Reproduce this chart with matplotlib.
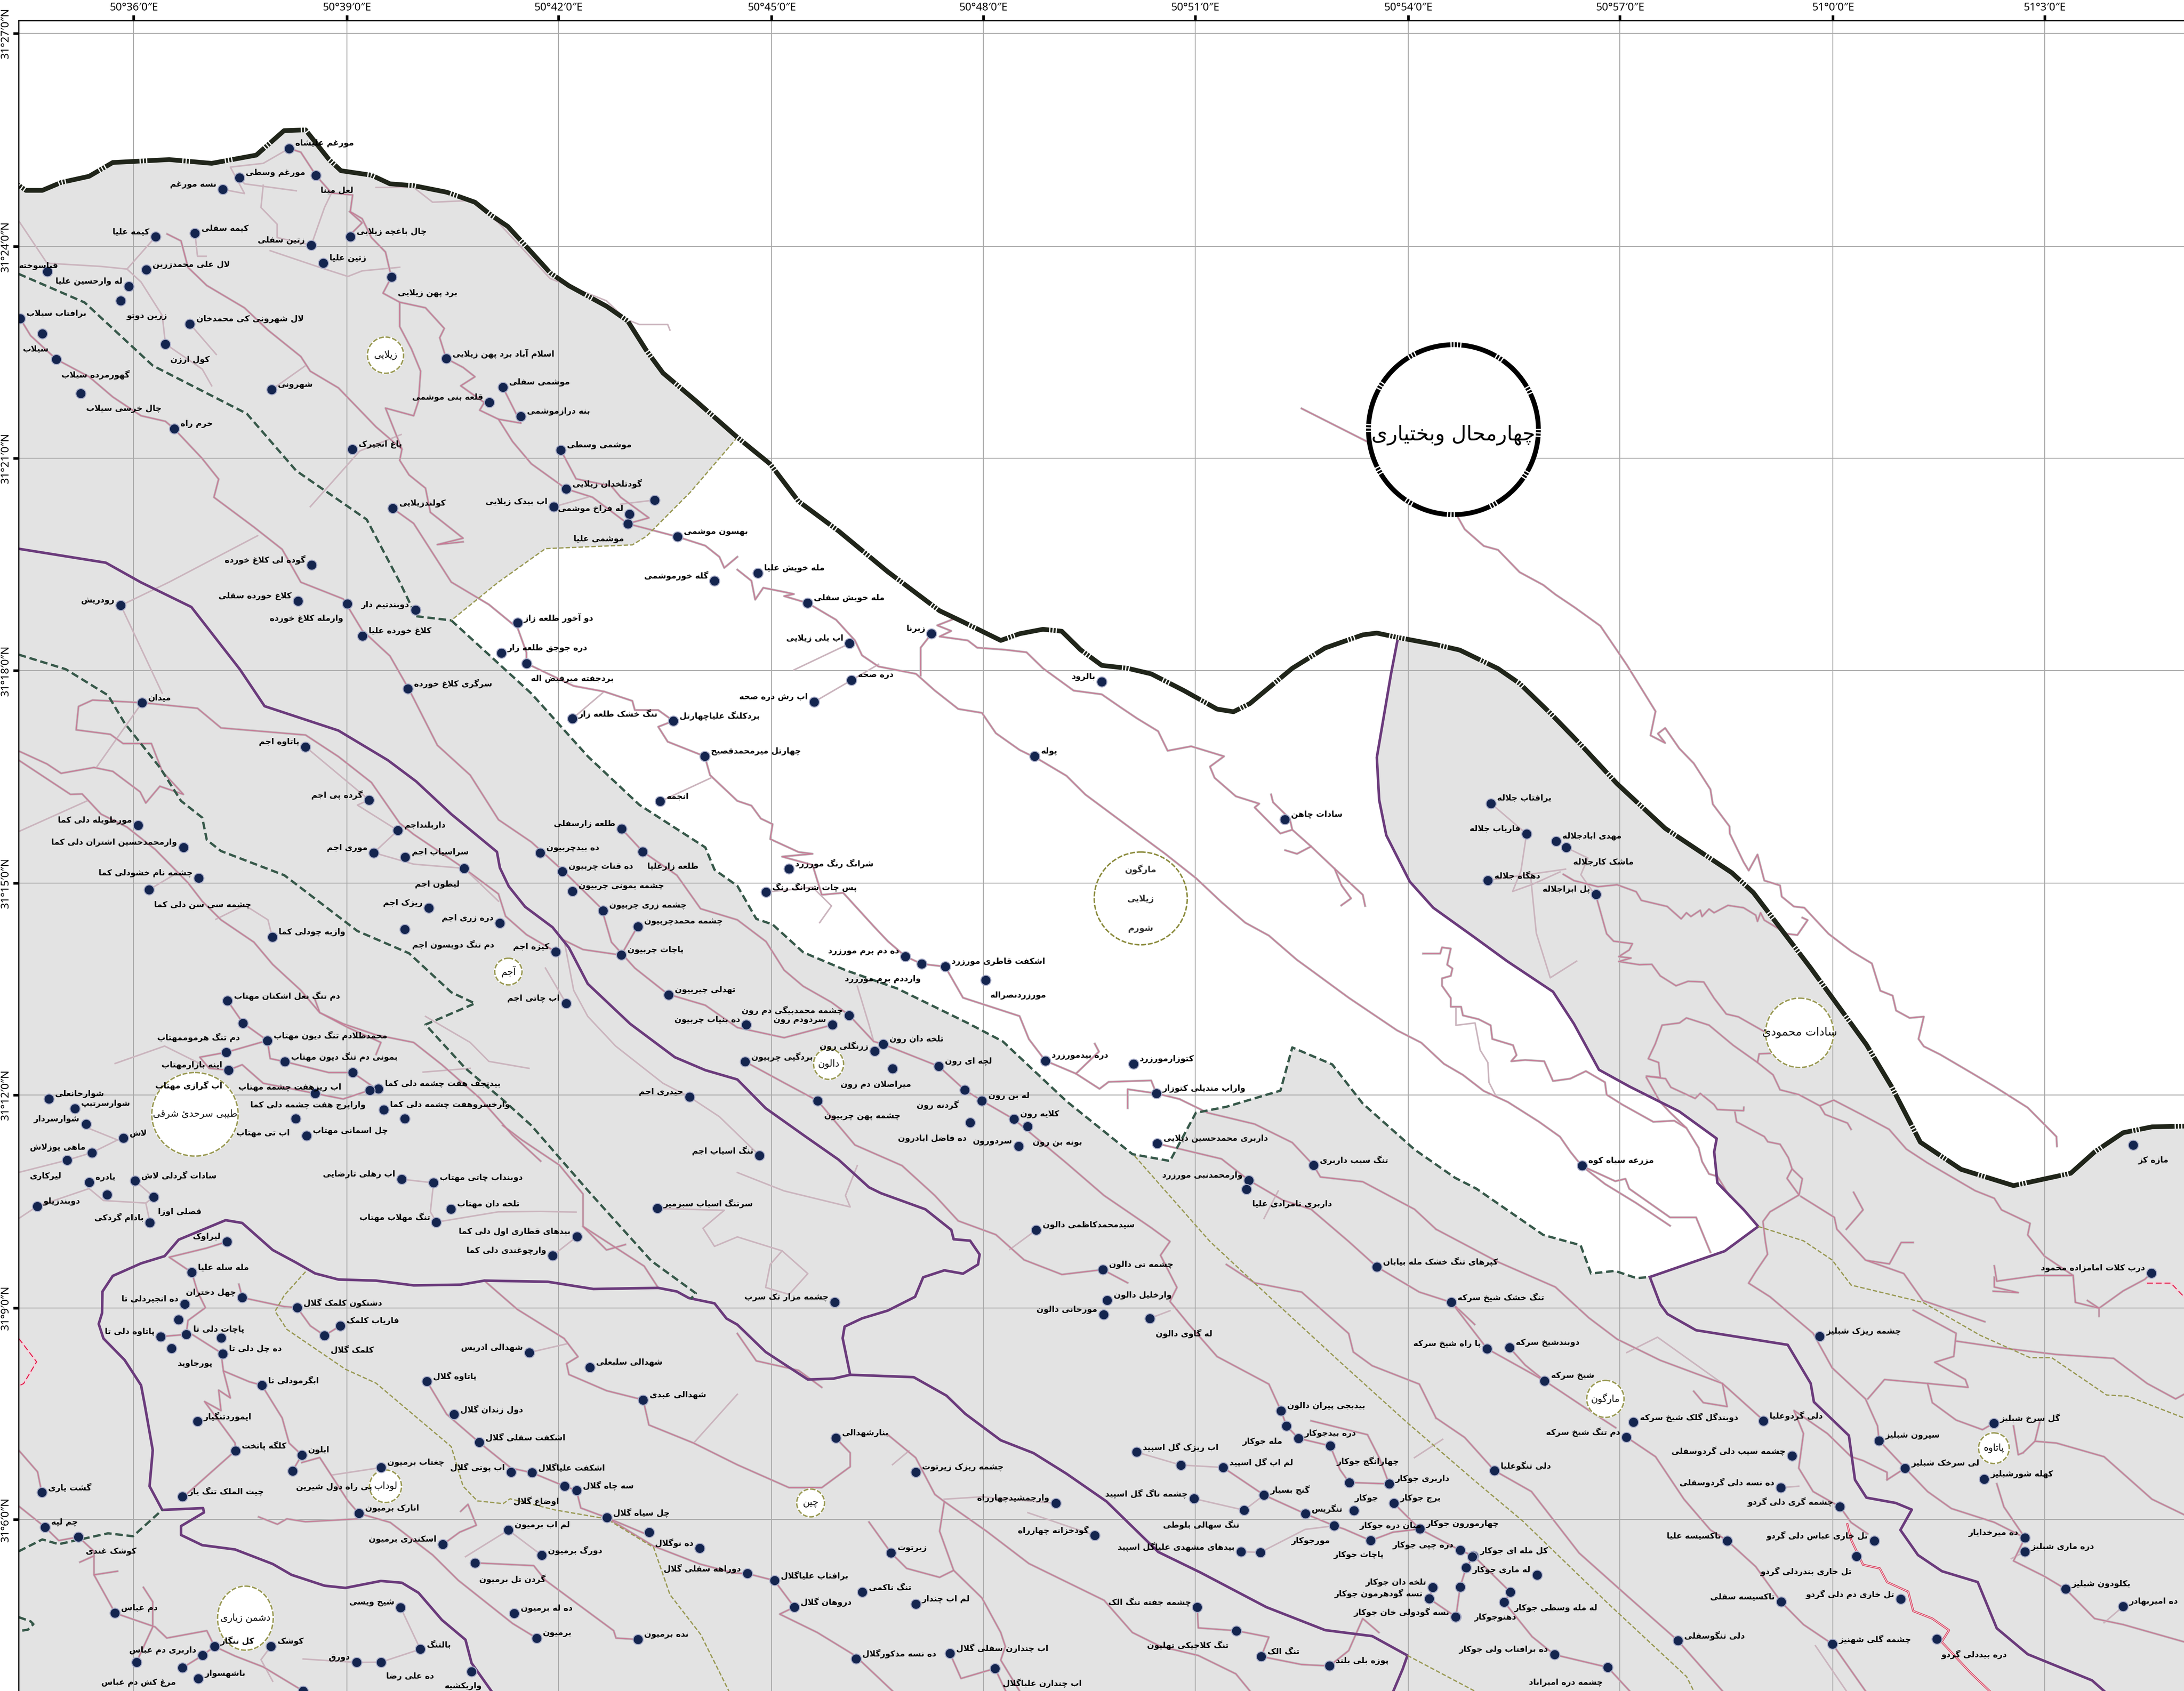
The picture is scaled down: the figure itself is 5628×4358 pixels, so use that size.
import matplotlib
matplotlib.use('Agg')
import matplotlib.pyplot as plt
from matplotlib.patches import Polygon, Ellipse

# map units: x, y as read on the sheet, ticks give them their lon / lat
lon_ticks = [96, 249, 401, 554, 706, 858, 1011, 1163, 1316, 1468]
lon_labels = ["50°36′0″E", "50°39′0″E", "50°42′0″E", "50°45′0″E", "50°48′0″E", "50°51′0″E", "50°54′0″E", "50°57′0″E", "51°0′0″E", "51°3′0″E"]
lat_ticks = [24, 177, 329, 481.5, 634, 786, 939, 1091]
lat_labels = ["31°27′0″N", "31°24′0″N", "31°21′0″N", "31°18′0″N", "31°15′0″N", "31°12′0″N", "31°9′0″N", "31°6′0″N"]

# province border, west part and east part
border_w = [(13.4,133),(18.6,136.7),(30.4,136.7),(44,131),(64,126.6),(81,116.7),(121.5,114.6),(152,117.3),(184,111.4),(204,93.8),(219.4,93.3),(236.3,114.6),(244.8,122.6),(266.7,125.8),(280,132),(297,133.3),(320.7,138),(341,145.2),(352.8,154.6),(364.6,162.6),(378,177.2),(395,195.9),(408.5,205.2),(435.5,219.9),(450.7,230.5),(464.2,251.8),(476,267.8),(499.6,287.8),(529.4,314)]
border_m = [(529.4,314),(553,333.2),(573.3,359.9),(602,381.2),(637.4,410.5),(674.6,438.5),(691.4,446.5),(718.5,459.8),(732,455),(748.8,451.8),(762.3,453.2),(775.8,466.5),(791,477.7),(809.6,479.8),(826.5,483.8),(850,495.8),(873.8,509.1),(885.6,511),(897.4,505.1),(927.8,479.8),(951.4,465.2),(978.4,455.8),(988.5,454.5),(1003.7,457.7)]
border_e = [(1003.7,457.7),(1031,462.8),(1048,466.7),(1075.5,480),(1091,490.7),(1113,512),(1133.8,533.4),(1161,562.7),(1195.5,594.7),(1243.4,626.6),(1258.8,640.8),(1300,695),(1340,750),(1358,780),(1378.7,820),(1407.9,839.5),(1445.6,851.2),(1486.7,842.3),(1503.8,827),(1524.3,813.2),(1545,809),(1568,808.5)]

olive_top = [(529.4,314),(496,353),(464.2,385),(454,391.2),(391.6,393.9),(357.9,417.9),(324,445.4)]
green_hole = [(324,445.4),(381.5,497.9),(422,543),(459,577.8),(506.4,608.4),(513,624.4),(529.4,636),(543,659.7),(554.7,663.7),(576.7,683.7),(607,696.5),(644.2,709.7),(694.8,734.5),(720,747.7),(765.7,790.6),(813,828.6),(840,833.5),(858.6,798.9),(880.5,794.6),(919.3,783),(927.8,752),(956.5,764.2),(978.4,792.3),(1015.6,825.3),(1044.7,845.6),(1060,853.4),(1108,886.6),(1134.8,894),(1142.3,914.3),(1159.5,912.4),(1174.9,917.6),(1184.5,916.8)]
purple_hole = [(1184.5,916.8),(1238.3,898.2),(1262.3,880.5),(1252,868.6),(1233,849.2),(1230.7,827),(1232.5,817.4),(1205.7,798),(1169.8,780),(1148,768),(1130,735),(1115,712),(1082,690),(1058.7,673),(1029,651.7),(1012.2,633),(995.3,599.7),(990.2,574.4),(988.5,543.8),(998.7,483.8),(1003.7,457.7)]

green_west = [(13.5,196.7),(60.8,217.2),(109.7,262.5),(177.2,297),(212.7,338),(263.3,373),(287,417.9),(298.8,442.4),(324,445.4)]
green_mid = [(13.5,470),(47.3,480.5),(77.6,499.2),(89.5,519.2),(114.8,551),(130,575),(145.2,587),(148.5,603),(158.7,611),(204.2,628.4),(256.6,668.4),(293.7,684.4),(324,712.4),(341,720.4),(305.5,735.6),(334.2,767),(361.2,789.7),(381.5,808),(422,854.6),(467.6,905.2),(499.6,928.5),(496,932.4)]
green_sw = [(13.5,1113.7),(30.4,1105.2),(42.2,1108.6),(77.6,1100.8),(95.5,1102.9),(116.5,1084)]
green_arc = [(13.5,1161),(22,1164),(24,1166),(20,1170),(13.5,1171)]

purple_a = [(13.5,394),(76,404),(101,418),(137.4,435.8),(172.2,480.5),(190,507),(243,524.5),(278.5,545.8),(298.8,561),(324,584.5),(356.8,611.6),(358.9,623),(365.3,636.4),(377,651),(396.7,665.7),(408.5,680.4),(422,706.3),(452.4,735),(484.5,759),(506.4,768.3),(529.4,775),(549.7,795.6),(578.4,816),(602,832.5),(623.9,852.4),(632.4,856.6),(664.4,868.2),(683,883),(684.7,889.7),(696.5,890.7),(703.3,900.6),(702.2,907.8),(691.4,914.4),(678,912),(662.8,917),(657,931),(637.4,940.9),(618.9,946.5),(606.4,952.4),(605,960.7),(610.4,987)]
purple_b = [(352.8,1214),(338.6,1194),(334.2,1177.2),(317.3,1163),(300.5,1143.5),(288.6,1136.3),(273.5,1135),(248,1140),(233,1138.4),(209.3,1130.6),(195.8,1122.8),(168.8,1112.4),(145.2,1109.3),(130,1102),(130,1095.6),(146.5,1085.8),(145.8,1082.7),(116.5,1084),(107.4,1067),(109.7,1041.2),(104,1008.8),(101.3,994.5),(89.5,976.4),(74.3,960.9),(70.9,950.5),(73.3,942.7),(73.6,927.2),(81,916),(101.3,907),(118.2,901.8),(128.3,890),(162,876),(173.9,878),(195.8,897.4),(212.7,906.5),(226.2,914.2),(243,918.6),(270,919.4),(297,922.8),(330.8,922.3),(347.7,919.4),(393.3,920.2),(426,925.4),(472.6,924.6),(486,927.2),(494.6,931.9),(513,935.7),(521.6,946.6),(529.4,951),(549.7,970.6),(580,990.4),(598.6,989.7),(610.4,987),(656,988.7),(679.6,1002),(693,1015),(718.5,1034),(742,1043.2),(765.7,1058),(794.4,1077.9),(831.6,1114.2),(862,1129),(909.2,1153.8),(951.4,1170.3),(985.2,1174.6),(1010.5,1188.5),(1007,1198.4),(1000.4,1214)]
purple_c = [(1184.5,916.8),(1192,936.4),(1197.2,943.4),(1217.7,955),(1283.5,965.5),(1300,993.2),(1302.3,1006.5),(1327.4,1030.6),(1331.8,1062.4),(1340,1075.2),(1361,1079),(1372.6,1083.8),(1364.4,1098.4),(1377,1116.4),(1394.2,1128),(1419.9,1135.8),(1433.6,1169),(1455.8,1187.6),(1502,1206.4),(1510.6,1214)]

olive_a = [(219.4,913),(204.2,929.8),(197.5,941.4),(206,954.4),(248,983),(270,993),(324,1038.6),(332.5,1067),(342.7,1077.5),(361.2,1079.5),(366.3,1076),(398.4,1084),(435.5,1090.4),(469.3,1111),(481,1144.8),(503,1173.3),(523.3,1214)]
olive_b = [(814.7,830),(868.7,891.3),(904.1,924.3),(961.5,977.2),(1008.8,1020),(1058.7,1063),(1092.7,1091.5),(1154.3,1151),(1210.9,1203.7),(1216,1214)]
olive_c = [(1262.3,880.5),(1294.8,890.8),(1315.4,904.6),(1329,922.6),(1380.5,935),(1421.6,958.6),(1457.5,974.7),(1473,974.7),(1512.4,1001.5),(1527.8,1002.4),(1568,1018)]
olive_d = [(1010.5,1188.5),(1058.7,1214)]

red_west = [(13.5,960.9),(26.3,977.7),(17,993.3),(13.5,995)]
red_east = [(1541.5,921.2),(1558.6,921.2),(1568,931)]
red_river = [(1326.3,1094.3),(1329,1105.4),(1337.6,1123.4),(1349.6,1126),(1354.8,1135.8),(1370,1142.7),(1373.6,1156.6),(1387.3,1162),(1399.3,1170.4),(1394,1178.7),(1414.7,1200.9),(1428.4,1214)]

rivers_white = [
    [(529.4,409),(539.5,417),(542.2,430.5),(548,422),(563,425),(570,426.5),(563,428),(580,433),(593.5,441),(600.3,445),(613.8,459.8),(618.9,470.5),(630.7,478.5),(657.7,483.8),(671.2,495.8),(688,509),(705,511.8),(715,526.4),(732,538.4),(745.5,545),(765.7,557),(779.2,570.4),(809.6,593),(836.6,613),(858.6,630.4),(877,647.7),(894,662.4),(911,671.7),(931,689),(941.3,696.5),(968.3,716.3),(1003,739.7),(1020.4,748.6),(1036.6,763.7),(1050.3,771.7),(1065.2,783.2),(1082.6,791.2),(1105,805.4),(1120,816.1),(1127.4,826.8),(1135.6,837),(1159.7,848),(1167,846.3),(1169.7,853.4),(1199,874),(1217.7,874),(1224.6,890.8),(1228,899)],
    [(1135.6,837),(1152.3,850),(1174.7,863.7),(1199,880)],
    [(684.7,444.4),(672.9,449),(683,453),(674.6,457),(694.8,459.8),(701.6,465),(721.8,466.5),(737,468.3),(748.8,479.8),(770.8,495.8),(791,498.5),(804.5,507.8),(816.4,515.8),(831.5,525),(838.3,539),(855.2,535.8),(878.8,543),(868.7,550.4),(872,558.4),(887.3,571.7),(904.1,577),(900.8,579.7),(919.3,598.4),(927.8,595.7),(941.3,607.7),(958.2,623.7),(978.4,642.4),(980.1,650.4)],
    [(912.6,570.4),(914,576),(926,587.7),(927.8,595.7)],
    [(941.3,607.7),(931.2,613),(922.7,610.4)],
    [(958.2,623.7),(963.2,635.7),(970,645),(963,650)],
    [(668.8,455),(661,465),(661,485)],
    [(934.5,293.3),(981.8,317.2)],
    [(1046.4,370.8),(1051.6,380),(1065.3,392),(1075.5,394.8),(1091,410.8),(1108,420),(1116.7,426.8),(1130.4,436),(1149,449.4),(1168,477.4),(1188.6,510.7),(1185,528),(1195.5,533.4),(1190.3,526.7),(1195.5,522.7),(1205.7,537.4),(1216,548),(1228,566.7),(1229.7,577.3),(1241.7,593.3),(1241.9,598.4),(1251.8,618.9),(1255.5,625),(1261.8,613.5),(1266.7,632.2),(1278,635.7),(1279.2,643.7),(1287.9,650.8),(1295.4,651.7),(1312.8,670.4),(1329,682.8),(1343.9,691.7),(1350,711.3),(1358.8,714.8),(1361.3,725.5),(1371,730.8),(1381.2,729.9),(1377.4,745.9),(1381.2,751.2),(1393,757.1),(1415,770),(1431.8,780),(1455.8,795.2),(1476.4,816),(1476.8,823)],
    [(1021.7,684.6),(1034,684.6),(1035.3,680.2),(1041.6,681),(1039,692.6),(1042.8,695.3),(1041.6,700.6),(1035.3,702.4),(1035.3,707.7),(1041.6,716.6),(1041.6,722.8),(1049,722.8),(1050.3,729),(1061.5,731.7),(1070.2,736.1),(1071.4,745.9),(1086.3,750.4),(1088.8,757.5),(1085,761.9),(1095,761),(1108.7,761.9),(1115,776.1),(1127.4,774.4),(1138.6,769),(1152.3,777),(1153.5,785.9),(1164.7,793),(1187,805.4),(1202,804.6),(1210.8,809.9),(1199.6,799.2),(1192,791.2),(1182,773.5)],
    [(1210.8,809.9),(1219.5,824),(1222,833.9),(1227,842.8),(1233,844.5),(1241.8,858.8)],
]

rivers_east = [
    [(1122.4,627.7),(1130,632.2),(1147.3,636.6),(1161,635.2),(1174.7,640.2),(1178.4,646.4),(1197,650.8),(1207,659.7),(1210.8,655.3),(1214,658),(1220.7,653.5),(1222,658),(1227,652.6),(1230.6,655.3),(1240.6,650),(1251.8,651.7),(1260.5,657),(1261.8,661.5),(1264,655.3),(1266.7,660.6),(1283,670.4),(1290.4,671.3),(1297.8,660.6),(1294,658.8)],
    [(1146,643.7),(1153.5,670.4),(1158.5,675.7),(1172,677.5),(1169.7,682),(1162.2,686.8),(1171,687.8),(1162.2,690.3),(1177,692.6),(1185.9,692.3),(1192,700.6),(1203.3,707.7),(1212,704.5),(1223.2,705),(1230.6,716.6),(1239.4,728),(1248,730),(1266.7,740.6)],
    [(1271.7,756.2),(1263,756.6),(1261.8,762.8),(1244.3,750.4),(1227,736),(1210.8,730.8),(1205.8,734.4),(1193.3,736),(1188.4,749.5),(1183.4,760.1),(1190.8,762.8),(1192,773.5),(1182,772.6),(1195.8,774.4),(1199.6,780.6),(1217,788.6),(1220.7,785),(1230.6,793),(1233,796.6),(1251.8,797.4),(1252,795)],
    [(1261.8,762.8),(1273,771.7),(1278,782.4),(1291.6,785.9),(1306.5,793.9),(1316.5,789.8),(1336.4,800.1),(1356.3,810.8),(1368.7,825),(1383.7,834.8),(1418,854.8),(1431.8,860.3),(1437,868.6),(1457.5,878.3),(1455.8,886.6),(1467.8,901.8),(1488.4,915.7),(1490,935),(1507,939.2),(1524.3,926.8),(1539.8,918.5),(1544.6,914)],
    [(1306.5,793.9),(1310.3,800.1),(1326.4,806.3),(1329,810.8)],
    [(1245.6,798.4),(1246.8,805.4),(1266.7,816),(1269.2,819.7),(1278,821.5),(1284,831.2),(1286.6,839.2),(1294,846.3),(1291.6,857.9),(1270.8,870),(1265.7,877),(1267.4,890.8),(1269,900.5),(1260.5,913),(1255.4,921.2),(1270.8,931),(1301.7,957.2),(1315.4,982),(1339.3,1004.3),(1348,1023.7),(1349,1034),(1367.8,1054),(1383.9,1070.8),(1401,1083),(1431.8,1092.9),(1453.8,1104),(1445.6,1120.6),(1467.8,1131.7),(1483,1140.8),(1503.8,1162),(1524.3,1166.3),(1568,1178.7)],
    [(1286.6,839.2),(1283,846),(1291.6,857.9)],
    [(1293,859),(1317,874),(1318.8,882.5),(1339.3,904.6),(1366.8,914.3),(1380.5,933.7),(1425,948.9)],
    [(1330.8,856),(1337.6,868.6),(1325.6,882.5)],
    [(1373.6,892),(1365,892),(1356.5,907.4),(1341,905)],
    [(1373.6,940.6),(1404.4,957.2),(1402.7,973.8),(1389,978),(1411,990.4),(1413,996),(1383.9,993.2),(1353,990.4),(1341,1004.3)],
    [(1383.9,993.2),(1387.3,1007),(1404.4,1019.5),(1423.3,1026.4),(1431.5,1021.7)],
    [(1404.4,962.8),(1442,968.3),(1476.4,972.4),(1517.5,975.2),(1541.5,993.2),(1562,1004.3),(1568,1001)],
    [(1431.8,908.8),(1433.6,919.8),(1462.7,915.7),(1488.4,915.7)],
    [(1431.8,917),(1431.8,924),(1449,928),(1431,927)],
    [(1498.7,933.7),(1507,939.2),(1507,945)],
    [(1452.4,1043),(1461,1034.7),(1464.4,1021)],
    [(1445.6,1023.7),(1449,1044.4),(1452.4,1043)],
    [(1461,1034.7),(1476.4,1036),(1510.6,1045.8),(1545,1076.3),(1568,1087.4)],
    [(1433.6,1065.2),(1438.7,1081.8),(1453.8,1104)],
    [(1354.8,1062.4),(1354.8,1057),(1337.6,1048.6),(1329,1045.8),(1312,1029.2),(1288,1012.6),(1294.8,1029.2),(1291.4,1054),(1301.7,1070.8),(1321,1081.8),(1329,1093),(1341,1101.2)],
    [(1367.8,1054),(1354.8,1062.4)],
    [(1167.7,1031.7),(1188.6,1045.8),(1209,1076.3),(1228,1098.4),(1240,1106),(1260.5,1124.7),(1278.7,1150),(1294.8,1166.3),(1315.7,1180.4),(1339.3,1214)],
    [(1031,1018),(1051.6,1032),(1073,1055.8),(1099.5,1070.8),(1133.8,1115),(1168,1145.5),(1204.7,1177.9),(1236.6,1214)],
    [(1031,882.5),(1075.5,906),(1116.7,924),(1140.6,946),(1161,961.4),(1192,976.6),(1236.6,993.2),(1267.4,1020.9)],
    [(1042.3,935.3),(1067.7,968.3),(1109,991.3),(1140,1012),(1160,1025)],
    [(1083.8,967.5),(1095,980),(1109,991.3)],
    [(867,798.9),(900.8,807),(927.8,820.3),(943,836.5),(948,845),(978.4,848.4),(1015.6,868.2),(1031,882.5)],
    [(830.9,821),(877,832),(896.7,847.4),(921,861.6),(941.3,868.2),(968.3,891.3),(988.5,909.5),(1019,927.6),(1042,935),(1058.7,950.8)],
    [(880.5,907.8),(900.8,921),(934.5,927.6),(968.3,957.4),(971.6,970.6),(985.2,980.5),(1019,993.7),(1031,1018)],
    [(846.7,789),(867,798.9)],
    [(809.6,795.6),(809.6,782),(830.2,785),(826.5,775.7),(796,776.7),(789.4,781.7),(772.5,770.8),(750.5,761.5)],
    [(786,749.3),(789,755),(772.5,770.8)],
    [(830.2,785),(846.7,789)],
    [(1216,998.8),(1222.9,1007),(1240,1009.8),(1236.6,993.2)],
]

rivers_north = [
    [(207.6,106.6),(216,109.3),(226.9,126),(238,138.6),(253.2,140),(251.5,152),(260,157),(266.7,170.6),(276.8,181),(281,199),(275,210.5),(287,217),(287,234.5),(295.4,250.5),(302,266.5),(300.5,287.8),(297,298.5),(276.8,293),(280,301),(288.6,322.5),(287,330.5),(293.7,341),(305.5,350.5),(309,367.8),(332.5,386.4),(314,391),(332.5,389)],
    [(120,168),(130,173),(135,192),(148.5,205),(175.5,221),(192.4,237),(216,256),(222.8,266.5),(243,278.5),(270,306.5),(288.6,322.5)],
    [(14.5,228.7),(22,241),(40.5,258),(64,270.5),(81,285),(101.3,298.5),(118.8,302.5),(125,307.8),(145,329),(157,344),(153.6,357),(182.3,378.4),(202.6,394.4),(216,418),(246.4,430),(260,452.5),(280,471),(293.7,495),(314,535),(337.6,556.5),(357.9,588.5),(381.5,604.5),(405,625.8),(432,652.4),(439,676.4),(455.8,695),(479.4,713.7),(506.4,721.7),(529.4,737.7),(563,745),(597.6,735.8)],
    [(287,217),(305.5,221),(319,235.8),(315.7,242.5),(320.4,257.4),(332.5,263.8),(341,270.5),(330.8,277),(347.7,289),(344.4,294.5),(357.9,301),(374,303.8),(361,278)],
    [(357.9,301),(368,317),(381.5,333),(406.5,351),(425.4,357),(450.7,376),(486.5,385.4),(506.4,391.8),(516.5,399.8),(520,407.7),(529.4,399.8)],
    [(402.7,323.3),(413.6,343.8),(438.9,349),(445.6,357),(465.9,371.8),(450.7,376)],
    [(282,365),(297,375.8),(324,417.9),(351,434),(371.7,451),(378,468.5),(378,476.3),(411.9,492.5),(433.8,496.5),(454,503.2),(455.8,509.8),(472.6,509.8),(483.4,517.6),(472.6,521.8),(479.4,532.5),(499.6,540.5),(506,543),(509.8,556.5),(529.4,575),(539.5,578.4),(546.3,587.7),(554.7,591.7),(553,602.4),(573.3,611.7),(583.4,613),(561.5,615),(583.4,621),(590,642.4),(605.4,641),(627.3,665),(637.4,675.7),(650,686.6),(661.7,692),(678.6,694),(691.4,716.3),(732,729.5),(738.7,746),(750.5,761.5)],
    [(250,170),(260,160),(251,152)],
    [(446.3,595),(461.5,611.4),(486,628.4),(503,652.4),(529.4,660.4),(550,676),(563,696.5),(576.6,708),(597,719.6),(609.7,728.9),(627.3,747.7),(634,749.7)],
]

rivers_centre = [
    [(535,762.2),(563,777.4),(587.1,790.3),(613.8,822),(647.6,836.8),(671.2,858.3),(688,876.5),(715,886.4),(735.3,904.5),(762.4,915),(791.7,911.5),(809.6,921)],
    [(634,749.7),(673.9,765.5),(692.5,782.4),(705,790.3),(727.9,803.5),(765.7,835),(792.7,858.3),(826.5,881.4),(840,891.3),(833.2,901.2),(845,924.3),(840,934.3),(853.5,950.8),(873.8,973.9),(911,993.7),(919.7,1012.8),(923.7,1023.7),(932.2,1032.6),(955,1038),(962,1055),(968.6,1064.3),(997.3,1065.3)],
    [(941.3,1020),(981.8,1030),(990.2,1046.5),(997.3,1065.3)],
    [(347.7,919.4),(371.4,940),(405,960.9),(415,974),(406.8,979),(408.5,986.8),(435.5,998.4),(461.8,1005),(465.9,1023),(498,1036),(529.4,1051.6),(566.5,1068),(590,1068),(610.4,1053),(610.4,1043),(600,1032.3)],
    [(637.4,1030),(657.4,1046.5),(671.2,1072.9),(678,1078),(674.6,1099.3),(684.7,1127.4),(705,1147.2),(718.5,1172),(721.8,1182),(718.5,1191.8),(732,1214)],
    [(678,1078),(708.3,1099.3),(738.7,1122.5),(792.7,1148.9),(813,1172),(833.2,1182),(860.3,1188.5),(887.3,1201.7),(897.4,1214)],
    [(536.5,1129.7),(556,1134.7),(570.3,1153.8),(559.8,1158.8),(586.8,1172),(613.8,1188.5),(640.8,1214)],
    [(623.9,1092.7),(639.8,1114.9),(651,1126),(674.6,1132.4),(684.7,1127.4)],
    [(859.6,1153.8),(860.3,1168.7),(887.6,1170.7),(911,1175.3),(905.5,1189.2),(934.5,1195),(954.5,1196),(968.3,1185),(978.4,1162),(990,1172)],
    [(878.1,1053.5),(907.5,1073.3),(937.2,1086.8),(958,1095.4),(965,1097.7),(984.1,1106),(1000,1100),(1019.3,1097.7)],
    [(1000.7,1079.2),(1019.3,1097.7),(1048.3,1113),(1058,1117),(1052.6,1125.6),(1048.3,1139.3),(1045.3,1160.8),(1026,1147.6),(1028.7,1139.6)],
    [(1058,1117),(1084.4,1143),(1080,1150.2),(1100,1175),(1116,1187.9),(1154.3,1197),(1170,1214)],
    [(682,1186.9),(690,1205),(714.4,1197.8),(722,1214)],
    [(529.4,957.4),(543,977),(573.3,983.8),(590,996)],
]

rivers_west = [
    [(102,504.5),(66.5,502.6),(56.4,507.2),(54.7,524),(79.3,527.2),(88.4,533.8),(108.7,533.8),(116.5,553.8),(131.7,570.3),(114.8,564.5),(104.7,576.5),(100.6,568.5),(81,553.8),(67.5,551),(43.9,555.2),(33.8,548.5),(13.5,539.2)],
    [(13.5,545.8),(50.6,570.3),(59,570),(72.6,584.5),(91.2,593.8),(111.4,609.8),(135,633.8),(145.2,647),(158.7,660.4),(182.3,676.4),(195.8,692.4),(216,711),(229.6,727),(246.4,735),(270,743),(297,748.4),(317.3,764.4),(344.4,788.3),(368,815),(388.2,833.6)],
    [(102,504.5),(141.8,508.5),(158.7,522.6),(219.4,527.7),(243,543.2),(266.7,561.8),(287,591),(297,599),(333.2,623.4),(357.9,641.8),(363,657.8),(378,671),(399,683.3)],
    [(405,675),(418.6,681.7),(446,685.7),(459,663)],
    [(163.4,718.5),(174.5,734.5),(192,747),(162.4,755.5),(143.5,759),(150.2,767),(164,768.3),(173.9,764.4),(189,777.7),(226.2,785),(246.4,789),(265.4,782.7),(271.8,781.7)],
    [(226.2,717.7),(229.6,727),(249.8,737.7),(273.5,748.4),(270,757)],
    [(192,747),(194,760),(204.6,762.2),(236,770),(253.2,770),(270,781.7)],
    [(361,808),(374.7,818.4),(401.7,836.5),(418.6,857.2),(418.6,880.5),(435.5,897.4),(449,893.5)],
    [(418.6,880.5),(462.5,909),(472.6,924.6)],
    [(13.5,1041.2),(27,1056.7),(30,1071.5)],
    [(13.5,1081.3),(32.4,1096.4),(42.2,1106),(56.4,1103.4),(67.5,1113.7),(67.5,1130.6),(81,1155),(82.4,1158),(111.4,1168),(119.8,1176),(148.5,1170.7),(154,1182),(168.8,1188.9),(189,1196.7),(217.7,1214)],
    [(57.4,1121.5),(67.5,1117)],
    [(67.5,1130.6),(84.4,1128)],
    [(103,1139.6),(109.7,1150),(109.7,1168),(98,1193.3)],
    [(154,1182),(145.5,1188.4),(131,1197.4)],
    [(137.7,913.5),(121.5,902.6),(148.5,896),(163,891.4)],
    [(137.7,913.5),(141.8,927.2),(147.5,938.8),(135,948),(133.7,958),(115.5,959.6)],
    [(138.4,958.3),(158.7,971.2),(160.4,984.2),(179,992),(188,994.5),(202.6,1018),(207.6,1036),(216.7,1044.6),(210,1056)],
    [(216.7,1050),(229.6,1046.4),(249.8,1077.5),(257.6,1086.5),(280.2,1093),(310.6,1116.3),(329,1134.5),(368,1165.5),(385.2,1176)],
    [(171.5,922),(174,931.6),(204,938),(213.4,938.8),(222.8,951.8),(233,958.8),(244.4,951.8)],
    [(160.4,984.2),(165.4,1003.6),(157,998),(158.7,1012.7),(146.9,1006.2),(168.8,1036),(169,1041.5)],
    [(185.7,1089),(199.2,1094.3),(206,1090.4),(219.4,1092.5),(257.6,1090.4)],
    [(306.5,991.7),(320.7,1015.3),(344,1035.5),(367,1054),(382,1057.3),(405.4,1067),(413.9,1070),(417,1082.6),(435.8,1089.6),(462.5,1100.8),(466,1100)],
    [(435.8,1089.6),(469.3,1110),(502.4,1122.8),(526.6,1129.3),(536.5,1129.7)],
    [(330.8,1085),(336,1080),(342,1095),(330,1100),(318,1108.8)],
    [(341,1122),(383.2,1124),(391.6,1134.5),(440.6,1170.7),(442.3,1176),(458,1177)],
    [(132,1074.4),(169,1041.5)],
]

pale_streams = [
    [(160,136),(175.6,139),(165.4,120),(189,117.3),(207.6,106.6)],
    [(172,127.7),(175.6,132),(212.7,137)],
    [(189,133),(187.4,149),(199,161),(199,170.6),(223.5,176),(233,149),(238,138.6)],
    [(194,180),(229.6,192),(249.8,198.5),(260,194.5),(287,191.9)],
    [(13.5,158.6),(33.8,189),(72.6,191.3),(91.2,193.2),(111.7,170)],
    [(140,167.4),(141.8,184),(148,184)],
    [(91.2,193.2),(101.3,202.5),(116.5,226.5),(118.8,247),(145.2,265),(152,277)],
    [(136.4,232.6),(155.3,254.5)],
    [(195,279.8),(219.4,262.5)],
    [(222.8,363.8),(258.3,323.8),(288,312)],
    [(397.7,363.8),(422,357)],
    [(470,359),(445.6,362)],
    [(270,134.6),(297,134.6),(310.6,145.2),(337.6,144),(357.9,160),(395,200),(435.5,216),(449,229),(459,233),(479.4,233),(481,237)],
    [(86.8,434.7),(116.5,497.8)],
    [(86.8,434.7),(121.5,417.9),(185,384.6)],
    [(219.4,536.2),(265,574.3),(256.6,578),(285.6,596.2)],
    [(268.4,612.2),(285.6,596.2)],
    [(268.4,612.2),(297,620.4),(333.2,623.4),(357.9,647)],
    [(69.2,551),(102,504.5)],
    [(13.5,597),(62.5,575)],
    [(155,660),(175.6,649.8),(192.4,660.4),(195.5,672.7)],
    [(107,638.8),(125,628)],
    [(82.7,763.5),(118.2,751),(145.2,764.4)],
    [(305.5,729.7),(337.6,748.4),(351,762),(379.8,767)],
    [(303.8,769.7),(337.6,767)],
    [(84.4,818.4),(66,827.5),(48.3,832.9),(13.5,841.7)],
    [(61.8,809.3),(84.4,818.4)],
    [(26.7,866),(64,853.3),(74.3,861.9),(104.7,863.7),(110.4,859.3),(96.9,847.6)],
    [(26.7,866),(13.5,874.8)],
    [(104.7,863.7),(107.7,877.7)],
    [(288.3,846.6),(311.3,849.2),(309,870),(313.3,877.4),(357.9,870),(388.2,869.7),(413.6,870.2)],
    [(414.2,887.8),(396.7,901.5)],
    [(472,867.6),(520,868.9),(504.7,881.8),(513,894.8),(529.4,888),(561.5,898),(580,914.4),(566.5,929.3),(549.7,924.3),(553,907.8),(561.5,898)],
    [(615.5,836.8),(607,858.3),(610.4,866.5),(563,855),(529.4,841.8)],
    [(495,787.5),(516.5,801.7),(545.3,829.6)],
    [(405,675),(411.9,711),(422,729.7),(442,751),(476,777.7),(495,787.5)],
    [(391.6,695),(406.5,720.4)],
    [(380,971),(406.8,964.8)],
    [(498,1036),(529.4,1001)],
    [(273.5,1053.6),(238,1059)],
    [(217.7,1191),(256,1193.5),(273.5,1193.3),(301.8,1184),(287.6,1154)],
    [(194.5,1182),(187.4,1191.5),(195.8,1207)],
    [(365,1098.5),(334.2,1117.6)],
    [(365,1098.5),(389,1116.6)],
    [(411,492),(433.8,496.5)],
    [(410.9,516),(433.8,496.5)],
    [(474,575.4),(511.5,558)],
    [(550,640.5),(583.4,637),(597,650.4),(588.5,662.4)],
    [(584.4,504),(611.4,488.3),(630.7,477)],
    [(610,462),(570,481)],
    [(816,1042.5),(847.8,1051.8),(878.1,1053.5)],
    [(857.2,1075.9),(893.3,1084.2),(907.5,1073.3)],
    [(891,1114),(904.8,1114.5),(937,1098),(958,1095.4)],
    [(677.9,1076.3),(705,1074.6),(758,1079.2)],
    [(738,1086),(786,1102.3)],
    [(744,883),(725,897)],
    [(825.5,946.5),(840,941)],
    [(1278.4,1068),(1291.4,1067)],
    [(1070.4,576.8),(1096,598.7),(1092,625),(1086,640),(1100,635),(1120,626)],
    [(1068.3,632),(1124,624)],
    [(1124.5,608.5),(1140,616),(1135,628),(1146,643.7)],
    [(1099,630),(1103,670),(1113,702),(1132,690)],
    [(1045.3,723.7),(1045.3,736.1),(1059,734.4),(1062.7,753.9),(1068.2,762.8),(1069,777),(1074,786.8)],
    [(1168,971),(1190,960),(1236.6,993.2)],
    [(615.5,708),(624,736),(627.3,747.7)],
    [(652.6,1041.6),(640.8,1051.5)],
    [(917.7,855),(907.5,874.8)],
    [(1035.8,1033.3),(1015.5,1046.5)],
    [(1303.4,1181.5),(1325.6,1214)],
    [(1524.3,1153.3),(1510.6,1165)],
    [(1453.8,1114),(1444,1119)],
]

free_labels = [
    (135.7,779.3,"اب گرازی مهتاب"), (189,813.6,"اب تی مهتاب"), (140,979,"پورجاوید"), (759.3,820.3,"بونه بن رون"),
    (862.3,1094.7,"تنگ سهالی بلوطی"), (906.5,1035,"مله جوکار"),
]

# villages with the name on the right of the point
dots_right = [
    (207.6,106.6,"مورغم علیشاه"),(172,127.7,"مورغم وسطی"),(140,167.4,"کیمه سفلی"),(251.5,170,"چال باغچه زیلایی"),(232,189,"زتین علیا"),(105,193.7,"لال علی محمدزرین"),
    (14.5,228.7,"برافتاب سیلاب"),(136.4,232.6,"لال شهرونی کی محمدخان"),(195,279.8,"شهرونی"),(320.4,257.4,"اسلام آباد برد پهن زیلایی"),(361,278,"موشمی سفلی"),(374,299,"بنه درازموشمی"),
    (125,307.8,"خرم راه"),(252.9,322.5,"باغ انجیرک"),(402.7,323.3,"موشمی وسطی"),(406.5,351,"گودتلخدان زیلایی"),(282,365,"کولندزیلایی"),(486.5,385.4,"بهسون موشمی"),
    (544,411.6,"مله خویش علیا"),(579.7,433,"مله خویش سفلی"),(611.4,488.3,"دره صحه"),(742.8,543,"پوله"),(922.4,588.3,"سادات چاهن"),(566.5,623.7,"شرانگ رنگ مورزرد"),(550,640.5,"پس چات شرانگ رنگ"),(678.6,694,"اشکفت قاطری مورزرد"),
    (260.3,456.5,"کلاغ خورده علیا"),(371.7,447.2,"دو آخور طلعه زاز"),(360,468.8,"دره جوجق طلعه زار"),(292.7,494.4,"سرگری کلاغ خورده"),(102,504.5,"میدان"),(410.9,516,"تنگ خشک طلعه زار"),(483.4,517.6,"بردکلنگ علیاچهارتل"),(506,543,"چهارتل میرمحمدفصیح"),(474,575.4,"انجمه"),
    (285.6,596.2,"داربلنداجم"),(291,615.4,"سراسیاب اجم"),(387.9,612.4,"ده بیدچربیون"),(403.8,625.8,"ده قنات چربیون"),(410.9,639.9,"چشمه بمونی چربیون"),(433,653.7,"چشمه زری چربیون"),(458,665.2,"چشمه محمدچربیون"),(195.5,672.7,"وازبه چودلی کما"),(446,685.7,"پاچات چربیون"),(480,714.2,"تهدلی چیربیون"),
    (163.4,718.5,"دم تنگ نعل اشکنان مهتاب"),(192,747,"محمدطلادم تنگ دیون مهتاب"),(204.6,762.2,"بمونی دم تنگ دیون مهتاب"),(271.8,781.7,"بیدنجف هفت چشمه دلی کما"),(35,789,"شوارخانعلی"),(53.7,795.8,"شوارسرتیپ"),(275.5,796.6,"وارخسروهفت چشمه دلی کما"),(220,815.3,"چل اسمانی مهتاب"),(88.5,817,"لاش"),
    (64,848.7,"بادره"),(96.9,847.6,"سادات گردلی لاش"),(26.7,866,"دوبندزیلو"),(311.3,849.2,"دوبنداب چاتی مهتاب"),(323.8,868,"تلخه دان مهتاب"),(472,867.6,"سرتنگ اسیاب سبزمیر"),(137.7,913.5,"مله سله علیا"),(213.4,938.8,"دشتکون کلمک گلال"),(244.4,951.8,"فاریاب کلمک"),(160,972,"ده چل دلی تا"),
    (423.4,981.6,"شهدالی سلبعلی"),(306.5,991.7,"پاتاوه گلال"),(188,994.5,"ابگرمودلی تا"),(461.8,1005,"شهدالی عبدی"),(326,1015.5,"دول زندان گلال"),(141.8,1020.5,"ایموردتنگیار"),(344,1035.5,"اشکفت سفلی گلال"),(169,1041.5,"کلگه پاتخت"),(216.7,1044.6,"ابلون"),(273.5,1053.6,"چغتاب برمیون"),(382,1057.3,"اشکفت علیاگلال"),(413.9,1070,"سه چاه گلال"),
    (30,1071.5,"گشت یاری"),(131,1074.4,"چیت الملک تنگ یار"),(257.6,1086.5,"انارک برمیون"),(435.8,1089.6,"چل سیاه گلال"),(32.4,1096.4,"چم لپه"),(365,1098.5,"لم اب برمیون"),(389,1116.6,"دورگ برمیون"),(82.4,1158,"دم عباس"),(369.3,1158.3,"ده له برمیون"),(385.2,1176,"برمیون"),(458,1177,"نده برمیون"),(194.5,1182,"کوشک"),(301.8,1184,"بالتنگ"),(142.5,1205,"باشهسوار"),
    (634,749.7,"تلخه دان رون"),(535,762.2,"بردگپی چربیون"),(750.5,761.5,"دره بیدمورزرد"),(813.7,763.9,"کتوزارمورزرد"),(673.9,765.5,"لچه ای رون"),(830.2,785,"واراب مندیلی کتوزار"),(705,790.3,"له بن رون"),(727.9,803.5,"کلایه رون"),(830.9,821,"داربری محمدحسین ذیلایی"),(943,836.5,"تنگ سیب داربری"),(744,883,"سیدمحمدکاظمی دالون"),(988.5,909.5,"کپرهای تنگ خشک مله بیابان"),(791.7,911.5,"چشمه تی دالون"),(1042,935,"تنگ خشک شیخ سرکه"),(795,933.6,"وارخلیل دالون"),(919.7,1012.8,"بیدبجی پیران دالون"),(932.2,1032.6,"دره بیدجوکار"),(600,1032.3,"بنارشهدالی"),(816,1042.5,"اب ریزک گل اسپید"),(878.1,1053.5,"لم اب گل اسپید"),(657.4,1056.8,"چشمه ریزک زیرتوت"),(997.3,1065.3,"داربری جوکار"),(907.5,1073.3,"گنج بسیار"),(1000.7,1079.2,"برج جوکار"),(937.2,1086.8,"تنگریس"),(1019.3,1097.7,"چهارمورون جوکار"),(639.8,1114.9,"زیرتوت"),(556,1134.7,"برافتاب علیاگلال"),(619.2,1143,"تنگ ناکمی"),(657.4,1151.5,"لم اب چندار"),(570.3,1153.8,"دروهان گلال"),(614.5,1190.8,"ده نسه مذکورگلال"),(682,1186.9,"اب چندارن سفلی گلال"),(905.5,1189.2,"تنگ الک"),(954.5,1196,"پوزه بلی بلند"),
    (1135.8,836.8,"مزرعه سیاه کوه"),(1306.5,959.4,"چشمه ریزک شبلیز"),(1083.8,967.5,"دوبندشیخ سرکه"),(1109,991.3,"شیخ سرکه"),(1172.8,1021,"دوبندگل گلک شیخ سرکه"),(1266,1020,"دلی گردوعلیا"),(1431.5,1021.7,"گل سرخ شبلیز"),(1349,1034.2,"سیرون شبلیز"),(1367.8,1054,"لی سرخک شبلیز"),(1073,1055.8,"دلی تنگوعلیا"),(1424.6,1062,"کهله شورشبلیز"),(1453.8,1114,"دره ماری شبلیز"),(1058,1117,"کل مله ای جوکار"),(1483,1140.8,"بکلودون شبلیز"),(1524.3,1153.3,"ده امیربهادر"),(1315.7,1180.4,"چشمه گلی شهنیز"),(1204.7,1177.9,"دلی تنگوسفلی"),
    (1070.4,576.8,"برافتاب جلاله"),(1117.3,604,"مهدی ابادجلاله"),(1068.3,632,"دهگاه جلاله"),
]

# villages with the name on the left of the point
dots_left = [
    (160,136,"نسه مورغم"),(111.7,170,"کیمه علیا"),(223.5,176,"زتین سفلی"),(92.5,205.7,"له وارحسین علیا"),(351.4,289,"قلعه بنی موشمی"),(397.7,363.8,"اب بیدک زیلایی"),(452,369,"له فراخ موشمی"),(223.8,405.6,"گوده‌لی کلاغ خورده"),(513,417,"گله خورموشمی"),
    (610,462,"اب بلی زیلایی"),(668.8,455,"زیرنا"),(584.4,504,"اب رش دره صحه"),(791,489.4,"بالرود"),(650,686.6,"ده دم برم مورزرد"),
    (86.8,434.7,"رودریش"),(214,431.5,"کلاغ خورده سفلی"),(298.4,437.9,"دوبندتیم دار"),(219.4,536.2,"پاتاوه اجم"),(265,574.3,"گرده پی اجم"),(446.3,595,"طلعه زارسفلی"),(99.3,592.5,"مورطویله دلی کما"),(131.7,608.4,"وارمحمدحسین اشتران دلی کما"),(268.4,612.2,"موری اجم"),(142.8,630.3,"چشمه نام خشودلی کما"),(307.9,652,"ریزک اجم"),(358.9,662.8,"دره زری اجم"),(399,683.3,"کیزه اجم"),(406.5,720.4,"اب چاتی اجم"),(164,768.3,"اینه بازارمهتاب"),(61.8,807,"شوارسردار"),(66,827.5,"ماهی پوزلاش"),(495,787.5,"حیدری اجم"),
    (288.3,846.6,"اب زهلی تارضایی"),(313.3,877.4,"تنگ مهلاب مهتاب"),(107.7,877.7,"بادام گردکی"),(414.2,887.8,"بیدهای قطاری اول دلی کما"),(396.7,901.5,"وارچوغندی دلی کما"),(163,891.4,"لیراوک"),(174,931.6,"چهل دختران"),(132.7,936.3,"ده انجیردلی تا"),(115.5,959.6,"پاتاوه دلی تا"),(380,971,"شهدالی ادریس"),(367,1057,"اب پوتی گلال"),(318,1108.8,"اسکندری برمیون"),(502.4,1111.4,"ده نوگلال"),(287.6,1154,"شیخ ویسی"),(145.5,1188.4,"داربری دم عباس"),(256,1193.5,"دورق"),
    (609.7,728.9,"چشمه محمدبیگی دم رون"),(597.6,735.8,"سردودم رون"),(535.8,735.8,"ده بنیاب چربیون"),(628,754.6,"زرنگلی رون"),(731.3,823,"سردورون"),(545.3,829.6,"تنگ اسیاب اجم"),(896.7,847.4,"وارمحمدنبی مورزرد"),(599.3,935,"چشمه مزار تک سرب"),(792.4,943.8,"مورخانی دالون"),(857.2,1075.9,"چشمه تاگ گل اسپید"),(758,1079.2,"وارجمشیدچهارراه"),(786,1102.3,"گودخزانه چهارراه"),(891,1114,"بیدهای مشهدی علیاگل اسپید"),(1048.3,1113,"دره چپی جوکار"),(536.5,1129.7,"دوراهه سفلی گلال"),(1028.7,1139.6,"تلخه دان جوکار"),(1026,1147.6,"نسه گودهرمون جوکار"),(859.6,1153.8,"چشمه جفته تنگ الک"),(1045.3,1160.8,"نسه گودولی خان جوکار"),
    (1544.6,914,"درب کلات امامزاده محمود"),(1067.7,968.3,"پا راه شیخ سرکه"),(1167.7,1031.7,"دم تنگ شیخ سرکه"),(1286.6,1045.3,"چشمه سیب دلی گردوسفلی"),(1278.4,1068,"ده نسه دلی گردوسفلی"),(1321,1081.8,"چشمه گری دلی گردو"),(1453.8,1104,"ده میرخدایار"),(1240,1106.2,"تاکسیسه علیا"),(1345.8,1106.2,"تل خاری عباس دلی گردو"),(1103.6,1130.8,"له ماری جوکار"),(1364.7,1148,"تل خاری دم دلی گردو"),(1278.7,1150,"تاکسیسه سفلی"),(1116,1187.9,"ده برافتاب ولی جوکار"),(1096,598.7,"فاریاب جلاله"),(1146,642,"پل ابزاجلاله"),
]

# villages whose name sits away from the point: x, y, name, name x, name y
dots_apart = [
    (226.9,126,"لعل مینا",242,136.7),(34,195,"قیاسوخته",27.7,191),(86.8,215.9,"زرین دوتو",105.7,227),(281,199,"برد پهن زیلایی",307,210.5),(30.4,239.6,"سیلاب",25.7,250.5),(40.5,258,"گهورمرده سیلاب",68.5,269),(58,282.5,"چال خرسی سیلاب",89,293.4),(118.8,247,"کول ارزن",136.4,258.5),(450.7,376,"موشمی علیا",430,387),
    (661.7,692,"وارددم برم مورزرد",633.7,703),(707.7,703.8,"مورزردنصراله",731,714.7),(249.5,433.4,"وارمله کلاغ خورده",220,444.3),(378,476.3,"بردجفته میرفیض اله",411,487.5),(461.5,611.4,"طلعه زارعلیا",483,622.3),(333.2,623.4,"لیطون اجم",314,635),(107,638.8,"چشمه سی سن دلی کما",145.5,649.8),(290.7,667.3,"دم تنگ دویسون اجم",325.4,678.3),
    (162.4,755.5,"دم تنگ هرموممهتاب",142.5,745),(226.2,785,"اب ریزهفت چشمه مهتاب",208,780.6),(212.4,803,"واراپرج هفت چشمه دلی کما",221,793.4),(48.3,832.9,"لیرکاری",32.7,844.5),(110.4,859.3,"قصلی اوزا",129,870),(233,958.8,"کلمک گلال",253,969),(158.7,960.6,"پاچات دلی تا",157,954.4),(210,1056,"پی راه دول شیرین",240,1067.6),(405.4,1067,"اوضاع گلال",384.9,1077.7),(56.4,1103.4,"کوشک غندی",79.7,1114),(341,1122,"گردن تل برمیون",368,1133.7),(154,1182,"کل تنگار",170.5,1178),(273.5,1193.3,"ده علی رضا",294.4,1203.6),(131,1197.4,"مرغ کش دم عباس",99.6,1208),(338.6,1200,"واریکشیه",332.5,1210.4),
    (640.8,767.2,"میراصلان دم رون",628.7,778.7),(692.5,782.4,"گردنه رون",673.2,793.3),(587.1,790.3,"چشمه پهن چربیون",619.2,801.5),(696.5,806,"ده فاضل ابادرون",669.5,817.4),(895,853.7,"داربری تامرادی علیا",927.8,864.6),(825.5,946.5,"له گاوی دالون",850,957.4),(955,1038,"چهارانگج جوکار",982.1,1049),(972,1084.5,"جوکار",981,1075.6),(958,1095.4,"مورجوکار",941,1106.3),(984.1,1106,"پاچات جوکار",975.4,1116.5),(887.6,1170.7,"تنگ کلاجیکی تهلیون",852.8,1181.2),(714.4,1197.8,"اب چندارن علیاگلال",748.2,1208.3),(968.6,1064.3,"میان دره جوکار",998.3,1095.4),
    (1531.5,822,"مازه کز",1546,833),(1332.8,1117.3,"تل خاری بندردلی گردو",1296.9,1128.3),(1084.4,1143,"له مله وسطی جوکار",1117,1154.4),(1080,1150.2,"دهنوجوکار",1073.5,1161.3),(1390.4,1176.8,"دره بیددلی گردو",1417.5,1187.9),(1154.3,1197,"چشمه دره امیراباد",1124.2,1208),(1124.5,608.5,"ماشک کارجلاله",1151.3,619.2),
]

dots_plain = [(470,359),(174.5,734.5),(253.2,770),(265.4,782.7),(290.7,803),(128.3,947.4),(133.7,958),(123.2,968),(77,857.7),(466,1100),(98,1193.3),(217.7,1214),(923.7,1023.7),(847.8,1051.8),(893.3,1084.2),(904.8,1114.5),(1057,1117.5),(1052.7,1125.4),(1048.3,1139.3),(737.7,808.8),(1045,1160.8)]

# small named areas: x, y, half width, half height, name
areas = [
    (276.8,255,13,13,"زیلایی"),(365,697.5,9.8,9.6,"آجم"),(140,800,31,30,"طیبی سرحدئ شرقی"),(276.8,1067,11.5,11.7,"لوداب"),(176.2,1161.7,20,23,"دشمن زیاری"),
    (594.9,763.9,10.8,11,"دالون"),(582,1079,10,10,"چین"),(1152.6,1004.3,13.4,13.3,"مارگون"),(1431.5,1039.7,11,11,"پاتاوه"),(1292,741.5,24.4,24.9,"سادات محمودئ"),
]
area_big_names = ["سادات محمودئ"]
big_area = (1043.5,308.5,61,61,"چهارمحال وبختیاری")
margoon_centre = (819,645,33.4,33.3)
margoon_names = ["مارگون","زیلایی","شورم"]

# persian shaping, matplotlib does not join letters or run them right to left
dual = {'ب':0xFE8F,'پ':0xFB56,'ت':0xFE95,'ث':0xFE99,'ج':0xFE9D,'چ':0xFB7A,'ح':0xFEA1,'خ':0xFEA5,'س':0xFEB1,'ش':0xFEB5,'ص':0xFEB9,'ض':0xFEBD,'ط':0xFEC1,'ظ':0xFEC5,'ع':0xFEC9,'غ':0xFECD,'ف':0xFED1,'ق':0xFED5,'ک':0xFB8E,'گ':0xFB92,'ل':0xFEDD,'م':0xFEE1,'ن':0xFEE5,'ه':0xFEE9,'ی':0xFBFC,'ئ':0xFE89}
right_only = {'ا':0xFE8D,'آ':0xFE81,'د':0xFEA9,'ذ':0xFEAB,'ر':0xFEAD,'ز':0xFEAF,'ژ':0xFB8A,'و':0xFEED}

def fa(text):
    text = text.replace('\u200c', ' ')
    out = []
    i = 0
    prev_joins = False
    while i < len(text):
        c = text[i]
        nxt = text[i+1] if i+1 < len(text) else ''
        if c == 'ل' and nxt in ('ا', 'آ'):
            base = 0xFEFB if nxt == 'ا' else 0xFEF5
            out.append(chr(base + (1 if prev_joins else 0)))
            prev_joins = False
            i += 2
            continue
        nxt_ok = nxt in dual or nxt in right_only
        if c in dual:
            if prev_joins and nxt_ok:
                g = dual[c] + 3
            elif prev_joins:
                g = dual[c] + 1
            elif nxt_ok:
                g = dual[c] + 2
            else:
                g = dual[c]
            out.append(chr(g))
            prev_joins = nxt_ok
        elif c in right_only:
            out.append(chr(right_only[c] + (1 if prev_joins else 0)))
            prev_joins = False
        else:
            out.append(c)
            prev_joins = False
        i += 1
    return ''.join(reversed(out))


def xy(pts):
    return [p[0] for p in pts], [p[1] for p in pts]


fig = plt.figure(figsize=(5628/300, 4358/300), dpi=300)
ax = fig.add_axes([48/5628, 0, 1-48/5628, 1-53/4358])
ax.set_xlim(13.4, 1568)
ax.set_ylim(1214, 14.8)

# grey land around the white pocket
ring = border_w + olive_top[1:] + green_hole[1:] + purple_hole[1:] + border_e[1:] + [(1568,1214),(13.4,1214)]
ax.add_patch(Polygon(ring, closed=True, facecolor='#e3e3e3', edgecolor='none', zorder=1))

for t in lon_ticks:
    ax.axvline(t, color='#a9a9a9', lw=0.55, zorder=2)
for t in lat_ticks:
    ax.axhline(t, color='#a9a9a9', lw=0.55, zorder=2)

for group in [rivers_white, rivers_east, rivers_north, rivers_centre, rivers_west]:
    for r in group:
        ax.plot(*xy(r), color='#c0b8bc', lw=1.35, zorder=3, solid_joinstyle='round')
for r in pale_streams:
    ax.plot(*xy(r), color='#cbb5be', lw=0.95, zorder=3)
for group in [rivers_white, rivers_east, rivers_north, rivers_centre, rivers_west]:
    for r in group:
        ax.plot(*xy(r), color='#c77a95', lw=0.6, zorder=3.1, solid_joinstyle='round')

ax.plot(*xy(red_river), color='#d9405f', lw=1.3, zorder=3.2)
ax.plot(*xy(red_river), color='#f6d5da', lw=0.45, zorder=3.3)
for r in [red_west, red_east]:
    ax.plot(*xy(r), color='#f4d3dc', lw=1.6, zorder=3.2)
    ax.plot(*xy(r), color='#dd1f4b', lw=0.6, ls=(0, (6, 3)), zorder=3.3)

for r in [purple_hole, purple_a, purple_b, purple_c]:
    ax.plot(*xy(r), color='#6b3b7c', lw=1.6, zorder=4, solid_joinstyle='round')
for r in [green_hole, green_west, green_mid, green_sw, green_arc]:
    ax.plot(*xy(r), color='#37594a', lw=1.45, ls=(0, (3.2, 1.6)), zorder=4)
for r in [olive_top, olive_a, olive_b, olive_c, olive_d]:
    ax.plot(*xy(r), color='#9a9a55', lw=0.8, ls=(0, (3.4, 1.6)), zorder=4)

hash_dash = (0, (0.25, 0.4, 0.25, 0.4, 0.25, 7))
for r in [border_w, border_m, border_e]:
    ax.plot(*xy(r), color='#20251a', lw=2.9, zorder=5, solid_joinstyle='round')
    ax.plot(*xy(r), color='white', lw=3.1, ls=hash_dash, zorder=5.1)

for a in areas:
    ax.add_patch(Ellipse(a[:2], a[2]*2, a[3]*2, facecolor='white', edgecolor='white', lw=1.2, zorder=5.5))
    ax.add_patch(Ellipse(a[:2], a[2]*2, a[3]*2, facecolor='none', edgecolor='#9a9a55', lw=0.9, ls=(0, (3.4, 1.2)), zorder=5.6))
    ax.text(a[0], a[1], fa(a[4]), ha='center', va='center', fontsize=7 if a[4] in area_big_names else 5.9, color='#111111', zorder=8)

ax.add_patch(Ellipse(big_area[:2], big_area[2]*2, big_area[3]*2, facecolor='white', edgecolor='black', lw=3, zorder=5.5))
ax.add_patch(Ellipse(big_area[:2], big_area[2]*2, big_area[3]*2, facecolor='none', edgecolor='white', lw=3.2, ls=hash_dash, zorder=5.6))
ax.text(big_area[0], big_area[1]+4, fa(big_area[4]), ha='center', va='center', fontsize=12.7, color='black', zorder=8)

ax.add_patch(Ellipse(margoon_centre[:2], margoon_centre[2]*2, margoon_centre[3]*2, facecolor='none', edgecolor='#8c8c3e', lw=0.9, ls=(0, (3.4, 1.2)), zorder=5.6))
for k, name in enumerate(margoon_names):
    ax.text(margoon_centre[0], margoon_centre[1]-21+21.5*k, fa(name), ha='center', va='center', fontsize=5.4, fontweight='bold', color='#333333', zorder=8)

# points and names
all_dots = dots_right + dots_left + [d[:3] for d in dots_apart] + [(p[0], p[1], '') for p in dots_plain]
ax.plot([d[0] for d in all_dots], [d[1] for d in all_dots], ls='none', marker='o', ms=6.2, mfc='#14254f', mec='#a9adc8', mew=0.6, zorder=7)

lab = dict(fontsize=5.1, fontweight='bold', color='black', va='center', zorder=8)
for d in dots_right:
    ax.text(d[0]+4.5, d[1]-3.5, fa(d[2]), ha='left', **lab)
for d in dots_left:
    ax.text(d[0]-4.5, d[1]-3.5, fa(d[2]), ha='right', **lab)
for d in dots_apart:
    ax.text(d[3], d[4], fa(d[2]), ha='center', **lab)
for d in free_labels:
    ax.text(d[0], d[1], fa(d[2]), ha='center', **lab)

# frame and graticule labels
for s in ['right', 'bottom']:
    ax.spines[s].set_visible(False)
for s in ['top', 'left']:
    ax.spines[s].set_linewidth(0.75)
    ax.spines[s].set_zorder(9)
ax.xaxis.tick_top()
ax.set_xticks(lon_ticks)
ax.set_xticklabels(lon_labels, fontsize=6.7, family='Noto Sans')
ax.set_yticks(lat_ticks)
ax.set_yticklabels(lat_labels, fontsize=6.7, family='Noto Sans', rotation=90, va='center')
ax.tick_params(axis='both', length=3.4, width=1.6, color='black', pad=1.2)

fig.savefig('out.png', dpi=300)
